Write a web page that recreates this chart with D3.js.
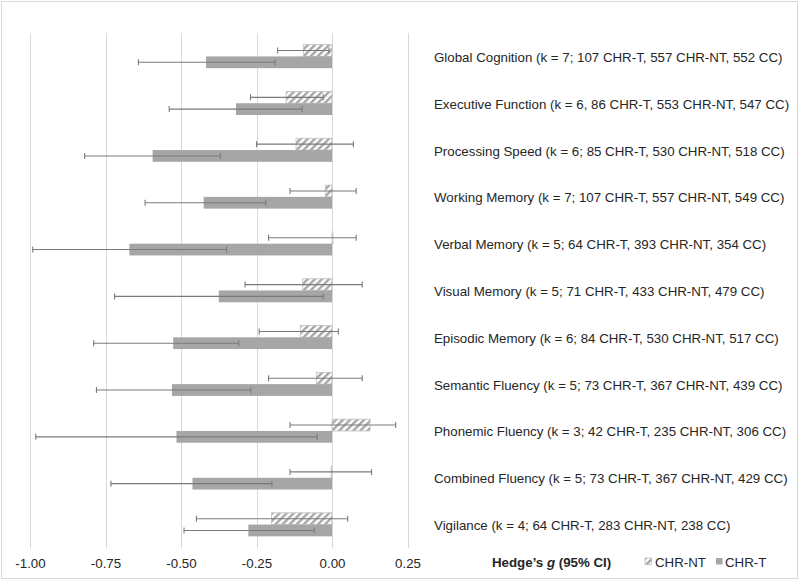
<!DOCTYPE html>
<html>
<head>
<meta charset="utf-8">
<script src="https://cdn.jsdelivr.net/npm/d3@7"></script>
<style>
  html, body { margin: 0; padding: 0; background: #fff; }
  svg { display: block; font-family: "Liberation Sans", Arial, sans-serif; }
</style>
</head>
<body>
<svg id="chart" width="800" height="581"></svg>
<script>
const categories = [
  "Global Cognition (k = 7; 107 CHR-T, 557 CHR-NT, 552 CC)",
  "Executive Function (k = 6, 86 CHR-T, 553 CHR-NT, 547 CC)",
  "Processing Speed (k = 6; 85 CHR-T, 530 CHR-NT, 518 CC)",
  "Working Memory (k = 7; 107 CHR-T, 557 CHR-NT, 549 CC)",
  "Verbal Memory (k = 5; 64 CHR-T, 393 CHR-NT, 354 CC)",
  "Visual Memory (k = 5; 71 CHR-T, 433 CHR-NT, 479 CC)",
  "Episodic Memory (k = 6; 84 CHR-T, 530 CHR-NT, 517 CC)",
  "Semantic Fluency (k = 5; 73 CHR-T, 367 CHR-NT, 439 CC)",
  "Phonemic Fluency (k = 3; 42 CHR-T, 235 CHR-NT, 306 CC)",
  "Combined Fluency (k = 5; 73 CHR-T, 367 CHR-NT, 429 CC)",
  "Vigilance (k = 4; 64 CHR-T, 283 CHR-NT, 238 CC)"
];
const seriesNames = ["CHR-NT", "CHR-T"];
// CHR-NT: Hedge's g and 95% CI
const ntG  = [-0.095, -0.152, -0.119, -0.022,  0.003, -0.097, -0.105, -0.052,  0.126, -0.003, -0.200];
const ntLo = [-0.180, -0.270, -0.250, -0.139, -0.210, -0.288, -0.241, -0.210, -0.139, -0.139, -0.449];
const ntHi = [-0.010, -0.029,  0.071,  0.080,  0.080,  0.100,  0.021,  0.100,  0.211,  0.131,  0.052];
// CHR-T: Hedge's g and 95% CI
const tG   = [-0.417, -0.318, -0.594, -0.425, -0.671, -0.375, -0.526, -0.530, -0.515, -0.462, -0.277];
const tLo  = [-0.641, -0.539, -0.819, -0.619, -0.991, -0.720, -0.789, -0.780, -0.981, -0.732, -0.490];
const tHi  = [-0.189, -0.099, -0.370, -0.219, -0.349, -0.029, -0.309, -0.269, -0.049, -0.199, -0.059];
const xTicks = [-1.00, -0.75, -0.50, -0.25, 0.00, 0.25];

const svg = d3.select("#chart");
const textColor = "#262626";
const solidColor = "#a6a6a6";
const errColor = "#7a7a7a";
const gridColor = "#d9d9d9";

// frame
svg.append("rect").attr("x", 1.5).attr("y", 1.5).attr("width", 796).attr("height", 577)
  .attr("fill", "#fff").attr("stroke", gridColor).attr("stroke-width", 1);

// hatch pattern
const defs = svg.append("defs");
const pat = defs.append("pattern").attr("id", "hatch").attr("patternUnits", "userSpaceOnUse")
  .attr("width", 5).attr("height", 5).attr("patternTransform", "rotate(45)");
pat.append("rect").attr("width", 5).attr("height", 5).attr("fill", "#fff");
pat.append("rect").attr("x", 0).attr("width", 2.4).attr("height", 5).attr("fill", solidColor);

const x = d3.scaleLinear().domain([-1, 0.25]).range([30, 407.5]);
const y = d3.scaleBand().domain(categories).range([33, 548]);
const ys = d3.scaleBand().domain(seriesNames).range([0, y.bandwidth()]).paddingOuter(0.99).paddingInner(0);

// gridlines
svg.append("g").selectAll("line").data(xTicks).join("line")
  .attr("x1", d => Math.round(x(d)) + 0.5).attr("x2", d => Math.round(x(d)) + 0.5)
  .attr("y1", 33).attr("y2", 548)
  .attr("stroke", gridColor).attr("stroke-width", 1);

const rows = categories.map((c, i) => ({
  cat: c,
  series: [
    { name: "CHR-NT", g: ntG[i], lo: ntLo[i], hi: ntHi[i] },
    { name: "CHR-T", g: tG[i], lo: tLo[i], hi: tHi[i] }
  ]
}));

const rowG = svg.append("g").selectAll("g").data(rows).join("g")
  .attr("transform", d => `translate(0,${y(d.cat)})`);

// bars
rowG.selectAll("rect.bar").data(d => d.series).join("rect")
  .attr("class", "bar")
  .attr("x", d => x(Math.min(0, d.g)))
  .attr("width", d => Math.abs(x(d.g) - x(0)))
  .attr("y", d => ys(d.name))
  .attr("height", ys.bandwidth())
  .attr("fill", d => d.name === "CHR-NT" ? "url(#hatch)" : solidColor)
  .attr("stroke", d => d.name === "CHR-NT" ? "#bfbfbf" : "none")
  .attr("stroke-width", 0.8);

// error bars
const capH = 3;
const eb = rowG.selectAll("g.err").data(d => d.series).join("g").attr("class", "err")
  .attr("stroke", errColor).attr("stroke-width", 1.1);
eb.append("line")
  .attr("x1", d => x(d.lo)).attr("x2", d => x(d.hi))
  .attr("y1", d => ys(d.name) + ys.bandwidth() / 2).attr("y2", d => ys(d.name) + ys.bandwidth() / 2);
eb.append("line")
  .attr("x1", d => x(d.lo)).attr("x2", d => x(d.lo))
  .attr("y1", d => ys(d.name) + ys.bandwidth() / 2 - capH).attr("y2", d => ys(d.name) + ys.bandwidth() / 2 + capH);
eb.append("line")
  .attr("x1", d => x(d.hi)).attr("x2", d => x(d.hi))
  .attr("y1", d => ys(d.name) + ys.bandwidth() / 2 - capH).attr("y2", d => ys(d.name) + ys.bandwidth() / 2 + capH);

// category labels
svg.append("g").selectAll("text").data(categories).join("text")
  .attr("x", 434).attr("y", d => y(d) + y.bandwidth() / 2 + 1)
  .attr("dominant-baseline", "central")
  .attr("font-size", "13.3px").attr("fill", textColor)
  .text(d => d);

// x axis
const fmt = d3.formatLocale({ decimal: ".", thousands: ",", grouping: [3], currency: ["", ""], minus: "-" }).format(".2f");
const axis = d3.axisBottom(x).tickValues(xTicks).tickFormat(fmt).tickSize(0).tickPadding(11);
const ax = svg.append("g").attr("transform", "translate(0,548)").call(axis);
ax.select(".domain").remove();
ax.selectAll("text").attr("font-size", "13.3px").attr("fill", textColor)
  .attr("font-family", "Liberation Sans, Arial, sans-serif");

// legend
const legY = 567;
const title = svg.append("text").attr("x", 492).attr("y", legY)
  .attr("font-size", "13.3px").attr("font-weight", "bold").attr("fill", textColor);
title.append("tspan").text("Hedge\u2019s ");
title.append("tspan").attr("font-style", "italic").text("g");
title.append("tspan").text(" (95% CI)");

const legItems = [
  { name: "CHR-NT", sx: 645, tx: 655 },
  { name: "CHR-T", sx: 716, tx: 725 }
];
const lg = svg.append("g").selectAll("g").data(legItems).join("g");
lg.append("rect")
  .attr("x", d => d.sx).attr("y", legY - 9).attr("width", 6.5).attr("height", 6.5)
  .attr("fill", d => d.name === "CHR-NT" ? "url(#hatch)" : solidColor)
  .attr("stroke", d => d.name === "CHR-NT" ? "#bfbfbf" : "none").attr("stroke-width", 0.8);
lg.append("text").attr("x", d => d.tx).attr("y", legY)
  .attr("font-size", "13.3px").attr("fill", textColor).text(d => d.name);
</script>
</body>
</html>
